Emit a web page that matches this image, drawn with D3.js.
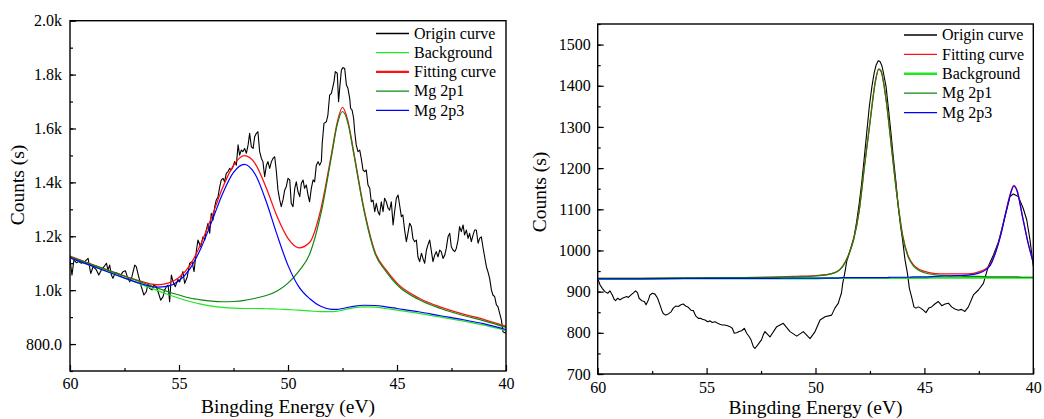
<!DOCTYPE html>
<html>
<head>
<meta charset="utf-8">
<script src="https://cdn.jsdelivr.net/npm/d3@7"></script>
<style>
body { margin: 0; background: #fff; }
svg { display: block; }
</style>
</head>
<body>
<div id="chart-container"></div>
<script>
// ---- data: left panel (fitted components) ----
const leftFitE = [60, 59, 58, 57, 56, 55.5, 55, 54.5, 54, 53.5, 53, 52.5, 52, 51.5, 51, 50.5, 50, 49.5, 49, 48.5, 48, 47.75, 47.5, 47.25, 47, 46.5, 46, 45.5, 45, 44, 43, 42, 41, 40];
const leftBackground = [1120, 1090, 1060, 1030, 999, 984, 970, 958, 948, 941, 936, 933, 932, 932, 931, 930, 928, 926, 923, 920, 920, 922, 926, 930, 934, 938, 937, 932, 926, 914, 900, 886, 870, 850];
const leftMg2p1 = [1124, 1095, 1066, 1038, 1008, 994, 982, 971, 964, 959, 957, 958, 962, 970, 980, 997, 1026, 1071, 1135, 1280, 1499, 1612, 1663, 1620, 1513, 1290, 1134, 1069, 1020, 965, 932, 907, 886, 862];
const leftMg2p3 = [1120, 1090, 1060, 1031, 1011, 1015, 1035, 1079, 1155, 1254, 1358, 1437, 1467, 1429, 1329, 1205, 1092, 1012, 968, 940, 929, 929, 932, 936, 940, 944, 943, 938, 932, 920, 905, 891, 875, 854];
const leftFitting = [1126, 1096, 1067, 1039, 1020, 1026, 1047, 1092, 1171, 1272, 1380, 1463, 1499, 1469, 1380, 1273, 1192, 1157, 1178, 1298, 1508, 1619, 1678, 1627, 1519, 1296, 1140, 1075, 1026, 971, 937, 912, 891, 866];

// ---- data: left panel (measured curve) ----
const leftOriginE = [
  60.00, 59.91, 59.82, 59.71, 59.60, 59.48, 59.33, 59.17, 59.05, 58.94, 58.79, 58.68, 58.56, 58.44, 58.33, 58.26, 58.18, 58.10, 58.03, 57.92,
  57.80, 57.68, 57.57, 57.46, 57.37, 57.26, 57.16, 57.03, 56.96, 56.85, 56.73, 56.61, 56.50, 56.42, 56.35, 56.24, 56.15, 56.04, 55.96, 55.84,
  55.73, 55.66, 55.58, 55.50, 55.43, 55.35, 55.27, 55.17, 55.05,
  54.97, 54.82, 54.74, 54.62, 54.51, 54.40, 54.31, 54.20, 54.13, 54.01, 53.90, 53.82, 53.75, 53.67, 53.59, 53.52, 53.44, 53.36, 53.29, 53.21,
  53.13, 53.06, 52.98, 52.91, 52.83, 52.75, 52.68, 52.60, 52.52, 52.45, 52.37, 52.29, 52.22, 52.14, 52.07, 51.99, 51.91, 51.83, 51.76, 51.68,
  51.60, 51.53, 51.45, 51.38, 51.30, 51.22, 51.15, 51.07, 50.99, 50.92, 50.84, 50.76, 50.69, 50.61, 50.54, 50.46, 50.38, 50.31, 50.23, 50.15,
  50.08,
  50.00, 49.92, 49.85, 49.77, 49.69, 49.62, 49.54, 49.46, 49.39, 49.31, 49.24, 49.16, 49.08, 49.01, 48.93, 48.85, 48.78, 48.70, 48.62, 48.55,
  48.47, 48.43, 48.35, 48.24, 48.17, 48.09, 48.01, 47.94, 47.89, 47.83, 47.74, 47.68, 47.63, 47.55, 47.48, 47.40, 47.32, 47.25, 47.17, 47.13,
  47.06, 46.99, 46.94, 46.87, 46.79, 46.71, 46.64, 46.56, 46.48, 46.41, 46.33, 46.25, 46.18, 46.10, 46.02, 45.95, 45.87, 45.80, 45.72, 45.64,
  45.57, 45.49, 45.41, 45.34, 45.26, 45.18, 45.11, 45.03,
  44.95, 44.88, 44.80, 44.73, 44.65, 44.57, 44.50, 44.42, 44.34, 44.27, 44.19, 44.11, 44.04, 43.96, 43.88, 43.81, 43.73, 43.65, 43.58, 43.50,
  43.42, 43.35, 43.27, 43.20, 43.12, 43.04, 42.97, 42.89, 42.81, 42.74, 42.66, 42.58, 42.51, 42.43, 42.35, 42.28, 42.20, 42.13, 42.05, 41.97,
  41.90, 41.82, 41.74, 41.67, 41.59, 41.51, 41.44, 41.36, 41.28, 41.21, 41.13, 41.06, 40.98, 40.90, 40.83, 40.75, 40.67, 40.60, 40.52, 40.44,
  40.37, 40.29, 40.21, 40.14, 40.00
];
const leftOriginCounts = [
  1114, 1056, 1112, 1102, 1106, 1100, 1106, 1118, 1062, 1087, 1075, 1056, 1075, 1087, 1100, 1075, 1093, 1056, 1044, 1065,
  1062, 1056, 1068, 1072, 1050, 1031, 1050, 1093, 1087, 1050, 1013, 982, 994, 1025, 1007, 1001, 1019, 1013, 994, 963,
  976, 1001, 1013, 1019, 957, 1056, 1031, 1013, 1040,
  1031, 1069, 1025, 1050, 1100, 1106, 1069, 1149, 1186, 1161, 1198, 1186, 1223, 1248, 1211, 1285, 1260, 1310, 1335, 1347,
  1384, 1409, 1415, 1402, 1433, 1440, 1452, 1446, 1458, 1477, 1464, 1539, 1501, 1520, 1514, 1526, 1508, 1539, 1582, 1532,
  1526, 1569, 1582, 1588, 1514, 1489, 1477, 1421, 1464, 1477, 1452, 1477, 1489, 1495, 1446, 1372, 1335, 1310, 1335, 1372,
  1384,
  1415, 1409, 1322, 1310, 1378, 1402, 1365, 1347, 1396, 1409, 1378, 1390, 1353, 1328, 1378, 1409, 1402, 1464, 1477, 1464,
  1477, 1545, 1619, 1625, 1650, 1724, 1730, 1755, 1774, 1811, 1805, 1699, 1749, 1817, 1826, 1823, 1761, 1749, 1712, 1675,
  1668, 1638, 1588, 1539, 1514, 1520, 1489, 1446, 1440, 1446, 1390, 1378, 1328, 1334, 1291, 1322, 1291, 1279, 1328, 1291,
  1341, 1328, 1304, 1297, 1328, 1242, 1291, 1341,
  1353, 1316, 1273, 1279, 1223, 1180, 1211, 1248, 1236, 1192, 1180, 1186, 1124, 1106, 1137, 1118, 1100, 1149, 1168, 1186,
  1143, 1106, 1130, 1143, 1124, 1149, 1143, 1118, 1130, 1155, 1198, 1211, 1161, 1149, 1143, 1155, 1186, 1236, 1217, 1242,
  1205, 1223, 1192, 1211, 1180, 1205, 1223, 1223, 1174, 1192, 1198, 1161, 1124, 1087, 1069, 1044, 1001, 982, 976, 945,
  939, 914, 889, 846, 840
];

// ---- data: right panel (fitted components) ----
const rightFitE = [60, 58, 56, 54, 52, 51, 50, 49.5, 49, 48.75, 48.5, 48.25, 48, 47.75, 47.5, 47.25, 47.1, 47, 46.75, 46.5, 46.25, 46, 45.75, 45.5, 45, 44.5, 44, 43.5, 43, 42.5, 42, 41.75, 41.5, 41.25, 41, 40.9, 40.75, 40.5, 40.25, 40];
const rightBackground = [931, 931, 932, 932, 932, 932, 932, 933, 933, 933, 933, 933, 933, 933, 933, 933, 933, 933, 933, 933, 933, 933, 933, 933, 933, 934, 934, 934, 934, 934, 934, 934, 934, 934, 934, 934, 934, 934, 934, 934];
const rightMg2p1 = [932, 932, 933, 934, 935, 936, 938, 941, 949, 961, 986, 1026, 1094, 1205, 1310, 1410, 1440, 1436, 1362, 1244, 1128, 1035, 985, 962, 946, 941, 939, 938, 937, 937, 936, 936, 936, 936, 936, 936, 936, 935, 935, 935];
const rightMg2p3 = [931, 931, 932, 932, 932, 933, 933, 933, 933, 934, 934, 934, 934, 934, 934, 934, 934, 934, 934, 935, 935, 935, 935, 936, 936, 937, 938, 939, 940, 945, 962, 992, 1036, 1094, 1145, 1156, 1145, 1083, 1020, 970];
const rightFitting = [932, 932, 933, 934, 935, 937, 939, 941, 949, 962, 987, 1027, 1095, 1206, 1311, 1411, 1441, 1437, 1363, 1246, 1130, 1037, 987, 965, 949, 944, 943, 943, 943, 948, 964, 994, 1038, 1096, 1147, 1158, 1147, 1084, 1021, 971];

// ---- data: right panel (measured curve) ----
const rightOriginE = [
  60.00, 59.89, 59.79, 59.67, 59.54, 59.44, 59.33, 59.24, 59.18, 59.08, 58.98, 58.87, 58.78, 58.67, 58.59, 58.47, 58.36, 58.26, 58.17, 58.10,
  57.98, 57.86, 57.78, 57.67, 57.60, 57.49, 57.37, 57.25, 57.14, 57.06, 56.99, 56.88, 56.76, 56.63, 56.53, 56.42, 56.30, 56.18, 56.07, 55.96,
  55.84, 55.72, 55.61, 55.50, 55.38, 55.26, 55.20, 55.07, 54.95, 54.84, 54.74, 54.61, 54.49, 54.39, 54.28, 54.17, 54.03, 53.93, 53.82, 53.73,
  53.62, 53.51, 53.39, 53.27, 53.16, 53.05, 52.96, 52.85, 52.78, 52.66, 52.55, 52.48, 52.40, 52.32, 52.09, 51.78, 51.48, 51.17, 50.86, 50.56,
  50.25, 50.02, 49.79, 49.56, 49.26, 49.11, 48.95, 48.91, 48.81, 48.75, 48.69, 48.63, 48.57, 48.45, 48.34, 48.23, 48.11, 47.99, 47.88, 47.77,
  47.65, 47.53, 47.41, 47.31, 47.22, 47.12, 47.04, 46.96, 46.89, 46.76, 46.66, 46.55, 46.43, 46.30, 46.20, 46.09, 46.00, 45.89, 45.78, 45.69,
  45.59, 45.48, 45.39, 45.28, 45.17, 45.05, 44.93, 44.80, 44.67, 44.52, 44.36, 44.20, 44.05, 43.90, 43.75, 43.60, 43.44, 43.30, 43.14, 42.98,
  42.75, 42.52, 42.29, 42.07, 41.83, 41.60, 41.30, 41.07, 40.92, 40.69, 40.46, 40.30, 40.15, 40.00
];
const rightOriginCounts = [
  932, 916, 908, 900, 896, 902, 892, 881, 878, 884, 880, 884, 886, 888, 886, 892, 897, 902, 897, 884,
  878, 876, 868, 880, 892, 896, 894, 884, 868, 855, 847, 843, 846, 851, 860, 865, 864, 868, 870, 865,
  862, 855, 854, 841, 835, 835, 833, 831, 827, 829, 825, 827, 823, 821, 819, 819, 817, 815, 811, 799,
  800, 803, 805, 811, 799, 791, 783, 766, 762, 770, 778, 783, 795, 803, 790, 815, 823, 803, 792, 803,
  786, 803, 831, 839, 843, 860, 872, 880, 896, 920, 936, 953, 973, 993, 1013, 1033, 1070, 1115, 1163, 1220,
  1285, 1349, 1398, 1430, 1450, 1461, 1459, 1450, 1434, 1398, 1349, 1293, 1228, 1163, 1106, 1058, 1025, 977, 945, 908,
  888, 863, 860, 863, 860, 855, 849, 860, 863, 870, 876, 866, 870, 872, 863, 858, 855, 857, 852, 863,
  892, 904, 920, 961, 989, 1021, 1082, 1131, 1137, 1131, 1102, 1074, 1025, 961
];

// ---- axes / legend labels ----
const xTicks = [60, 55, 50, 45, 40];
const xMinorTicks = [57.5, 52.5, 47.5, 42.5];
const leftYTicks = [800, 1000, 1200, 1400, 1600, 1800, 2000];
const leftYTickLabels = ["800.0", "1.0k", "1.2k", "1.4k", "1.6k", "1.8k", "2.0k"];
const rightYTicks = [700, 800, 900, 1000, 1100, 1200, 1300, 1400, 1500];
const leftLegend = ["Origin curve", "Background", "Fitting curve", "Mg 2p1", "Mg 2p3"];
const rightLegend = ["Origin curve", "Fitting curve", "Background", "Mg 2p1", "Mg 2p3"];

const width = 1044;
const height = 419;
const serif = "'Liberation Serif', 'DejaVu Serif', serif";
const colors = {origin: "#000000", bg: "#1fe61f", fit: "#ff1010", p1: "#0f870f", p3: "#0000ff"};

function drawPanel(svg, p) {
    const x = d3.scaleLinear().domain([60, 40]).range([p.left, p.right]);
    const y = d3.scaleLinear().domain(p.yDomain).range([p.bottom, p.top]);

    svg.append("clipPath")
        .attr("id", "clip-" + p.name)
        .append("rect")
        .attr("x", p.left).attr("y", p.top)
        .attr("width", p.right - p.left).attr("height", p.bottom - p.top);

    const line = (smooth) => d3.line()
        .x(d => x(d[0]))
        .y(d => y(d[1]))
        .curve(smooth ? d3.curveMonotoneX : d3.curveLinear);

    const curves = svg.append("g").attr("clip-path", `url(#clip-${p.name})`);
    p.series.forEach(s => {
        curves.append("path")
            .datum(s.e.map((e, i) => [e, s.v[i]]))
            .attr("fill", "none")
            .attr("stroke", s.color)
            .attr("stroke-width", s.width)
            .attr("stroke-linejoin", "round")
            .attr("d", line(s.smooth));
    });

    // x axis, ticks pointing inward
    svg.append("g")
        .attr("transform", `translate(0,${p.bottom})`)
        .call(d3.axisBottom(x).tickValues(xTicks).tickSize(-6).tickPadding(p.xPad).tickSizeOuter(0));
    svg.append("g")
        .attr("transform", `translate(0,${p.bottom})`)
        .call(d3.axisBottom(x).tickValues(xMinorTicks).tickSize(-3).tickFormat("").tickSizeOuter(0));

    svg.append("g")
        .attr("transform", `translate(${p.left},0)`)
        .call(d3.axisLeft(y).tickValues(p.yTicks).tickSize(-6).tickPadding(p.yPad)
            .tickFormat((d, i) => p.yTickLabels ? p.yTickLabels[i] : d).tickSizeOuter(0));
    svg.append("g")
        .attr("transform", `translate(${p.left},0)`)
        .call(d3.axisLeft(y).tickValues(p.yMinor).tickSize(-3).tickFormat("").tickSizeOuter(0));

    svg.selectAll(".domain").remove();
    svg.selectAll(".tick line").attr("stroke", "#000").attr("stroke-width", 1.2);
    svg.selectAll(".tick text").style("font-size", "16px").attr("fill", "#000");

    svg.append("rect")
        .attr("x", p.left).attr("y", p.top)
        .attr("width", p.right - p.left).attr("height", p.bottom - p.top)
        .attr("fill", "none")
        .attr("stroke", "#000")
        .attr("stroke-width", 1.4);

    // axis titles
    svg.append("text")
        .attr("x", (p.left + p.right) / 2)
        .attr("y", p.xTitleY)
        .attr("text-anchor", "middle")
        .style("font-size", "19.5px")
        .text("Bingding Energy (eV)");
    svg.append("text")
        .attr("transform", `translate(${p.yTitleX},${p.yTitleY}) rotate(-90)`)
        .attr("text-anchor", "middle")
        .attr("dy", "0.35em")
        .style("font-size", "19.5px")
        .text("Counts (s)");

    // legend
    const legend = svg.append("g");
    p.legend.forEach((name, i) => {
        const s = p.series.find(d => d.label === name);
        const ly = p.legendY + i * p.legendStep;
        legend.append("line")
            .attr("x1", p.legendX).attr("x2", p.legendX + 33)
            .attr("y1", ly).attr("y2", ly)
            .attr("stroke", s.color)
            .attr("stroke-width", s.legendWidth || 1.3);
        legend.append("text")
            .attr("x", p.legendX + 38)
            .attr("y", ly)
            .attr("dy", "0.33em")
            .style("font-size", "16px")
            .text(name);
    });
}

const svg = d3.select("#chart-container")
    .append("svg")
    .attr("width", width)
    .attr("height", height);

drawPanel(svg, {
    name: "left",
    left: 70, right: 506, top: 20.7, bottom: 371,
    yDomain: [700, 2000],
    yTicks: leftYTicks,
    yTickLabels: leftYTickLabels,
    yMinor: d3.range(700, 2001, 100),
    xPad: 7, yPad: 8,
    xTitleY: 413, yTitleX: 17, yTitleY: 185,
    legend: leftLegend, legendX: 376, legendY: 33.5, legendStep: 19.2,
    series: [
        {label: "Origin curve", e: leftOriginE, v: leftOriginCounts, color: colors.origin, width: 1.1, smooth: false},
        {label: "Background", e: leftFitE, v: leftBackground, color: colors.bg, width: 1.2, smooth: true},
        {label: "Fitting curve", e: leftFitE, v: leftFitting, color: colors.fit, width: 1.3, smooth: true, legendWidth: 2.2},
        {label: "Mg 2p1", e: leftFitE, v: leftMg2p1, color: colors.p1, width: 1.2, smooth: true},
        {label: "Mg 2p3", e: leftFitE, v: leftMg2p3, color: colors.p3, width: 1.2, smooth: true}
    ]
});

drawPanel(svg, {
    name: "right",
    left: 597.7, right: 1033.3, top: 24, bottom: 374,
    yDomain: [700, 1550],
    yTicks: rightYTicks,
    yTickLabels: null,
    yMinor: d3.range(700, 1551, 50),
    xPad: 8, yPad: 7,
    xTitleY: 414, yTitleX: 539, yTitleY: 192,
    legend: rightLegend, legendX: 904, legendY: 35, legendStep: 19.4,
    series: [
        {label: "Origin curve", e: rightOriginE, v: rightOriginCounts, color: colors.origin, width: 1.1, smooth: false},
        {label: "Fitting curve", e: rightFitE, v: rightFitting, color: colors.fit, width: 1.3, smooth: true},
        {label: "Background", e: rightFitE, v: rightBackground, color: colors.bg, width: 2, smooth: true, legendWidth: 2.6},
        {label: "Mg 2p1", e: rightFitE, v: rightMg2p1, color: colors.p1, width: 1.2, smooth: true},
        {label: "Mg 2p3", e: rightFitE, v: rightMg2p3, color: colors.p3, width: 1.2, smooth: true}
    ]
});

// one serif face for every label, axis text included
svg.selectAll("text").style("font-family", serif).attr("fill", "#000");
</script>
</body>
</html>
